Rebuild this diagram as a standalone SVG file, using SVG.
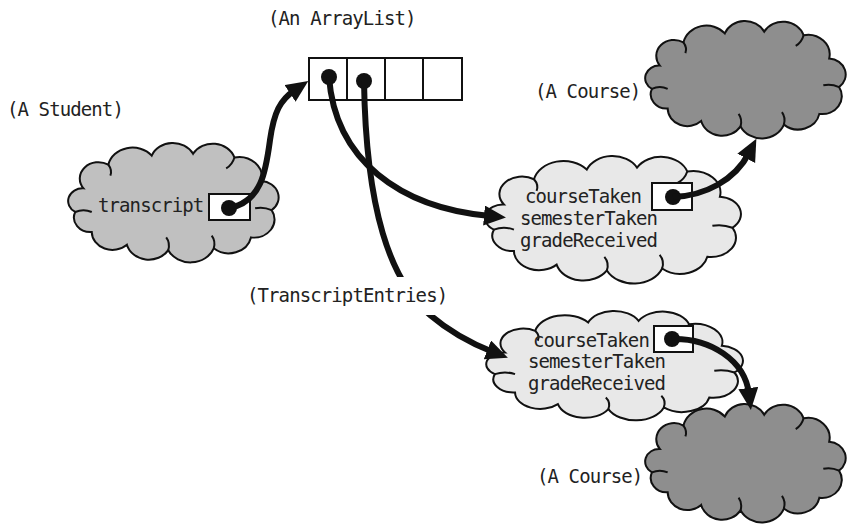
<svg xmlns="http://www.w3.org/2000/svg" xmlns:xlink="http://www.w3.org/1999/xlink" width="847" height="524" viewBox="0 0 847 524">
<style>
text{font-family:"DejaVu Sans Mono","Liberation Mono",monospace;font-size:19px;letter-spacing:-0.9px;fill:#222}
.cl path{stroke:#111;stroke-width:2;vector-effect:non-scaling-stroke}
.cl path.w{fill:none}
.stu{fill:#c0c0c0}
.crs{fill:#8e8e8e}
.ent{fill:#e8e8e8}
.box{fill:#fff;stroke:#111;stroke-width:2}
.dot{fill:#111}
.con{fill:none;stroke:#111;stroke-width:6;marker-end:url(#ah)}
</style>
<defs>
<marker id="ah" markerUnits="userSpaceOnUse" markerWidth="26" markerHeight="22" refX="6" refY="10" orient="auto">
<path d="M0,0 L22,10 L0,20 z" fill="#111"/>
</marker>
<g id="cloud" class="cl">
<path d="M14,48 A18,18 0 0 1 38,22 A24,24 0 0 1 80,12 A22,22 0 0 1 120,10 A22,22 0 0 1 160,14 A22,22 0 0 1 186,40 A18,18 0 0 1 196,72 A20,20 0 0 1 176,102 A22,22 0 0 1 140,114 A24,24 0 0 1 96,116 A22,22 0 0 1 56,110 A20,20 0 0 1 22,96 A16,16 0 0 1 6,74 A14,14 0 0 1 14,48 Z"/>
<path class="w" d="M38,22 Q42,28 40,34"/>
<path class="w" d="M160,14 Q158,22 152,26"/>
<path class="w" d="M196,72 Q188,68 180,70"/>
<path class="w" d="M96,116 Q98,108 94,102"/>
<path class="w" d="M6,74 Q14,70 22,74"/>
<path class="w" d="M140,114 Q142,106 138,100"/>
</g>
</defs>
<rect width="847" height="524" fill="#fff"/>

<g id="student">
<use xlink:href="#cloud" class="stu" transform="translate(69,144.7) scale(1.034,0.909)"/>
<text x="98" y="212">transcript</text>
<rect class="box" x="209" y="194" width="41" height="26"/>
<circle class="dot" cx="229" cy="208" r="8"/>
<text x="7" y="116">(A Student)</text>
</g>

<g id="arraylist">
<text x="268" y="25">(An ArrayList)</text>
<rect class="box" x="309" y="58" width="153" height="42"/>
<line x1="347" y1="58" x2="347" y2="100" stroke="#111" stroke-width="2"/>
<line x1="385" y1="58" x2="385" y2="100" stroke="#111" stroke-width="2"/>
<line x1="423" y1="58" x2="423" y2="100" stroke="#111" stroke-width="2"/>
<circle class="dot" cx="329" cy="77" r="8"/>
<circle class="dot" cx="364" cy="81" r="8"/>
</g>

<g id="course1">
<use xlink:href="#cloud" class="crs" transform="translate(646,22.7) scale(0.985,0.894)"/>
<text x="535" y="98">(A Course)</text>
</g>

<g id="course2">
<use xlink:href="#cloud" class="crs" transform="translate(646,405.7) scale(0.985,0.902)"/>
<text x="537" y="483">(A Course)</text>
</g>

<g id="entry1">
<use xlink:href="#cloud" class="ent" transform="translate(486.3,157.9) scale(1.256,0.970)"/>
<text x="525" y="203">courseTaken</text>
<text x="520" y="225">semesterTaken</text>
<text x="520" y="247">gradeReceived</text>
<rect class="box" x="652" y="183" width="40" height="27"/>
<circle class="dot" cx="673" cy="197" r="8"/>
</g>

<g id="entry2">
<use xlink:href="#cloud" class="ent" transform="translate(487.3,312.5) scale(1.261,0.833)"/>
<text x="533" y="347">courseTaken</text>
<text x="528" y="368">semesterTaken</text>
<text x="528" y="390">gradeReceived</text>
<rect class="box" x="654" y="326" width="39" height="26"/>
<circle class="dot" cx="672" cy="339" r="8"/>
</g>

<g id="connectors">
<path class="con" d="M229,208 C262,202 266,170 270,140 C274,112 280,100 295,90"/>
<path class="con" d="M329,77 C335,160 400,208 490,216"/>
<path class="con" d="M364,81 C366,210 390,280 430,315 C450,332 470,343 493,352"/>
<path class="con" d="M673,197 C705,196 735,180 749,153"/>
<path class="con" d="M672,339 C710,338 745,360 749,394"/>
</g>

<g id="label-entries">
<rect x="395" y="277" width="60" height="38" fill="#fff"/>
<text x="247" y="302">(TranscriptEntries)</text>
</g>
</svg>
